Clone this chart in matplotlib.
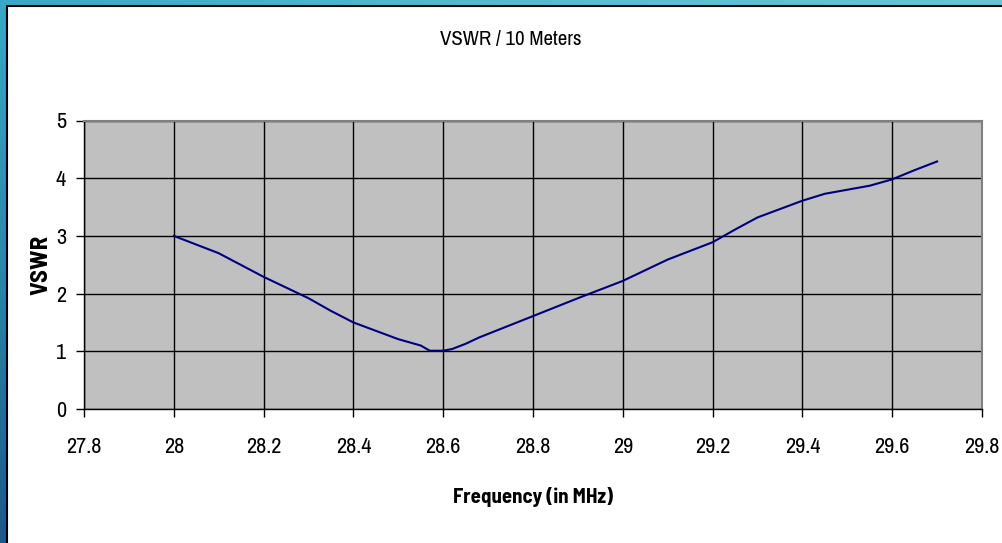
import numpy as np
import matplotlib
matplotlib.use("Agg")
import matplotlib.pyplot as plt
from matplotlib.colors import LinearSegmentedColormap

# data
freq = [28.0, 28.1, 28.2, 28.3, 28.35, 28.4, 28.5, 28.55, 28.57, 28.6, 28.62,
        28.65, 28.68, 28.8, 28.9, 29.0, 29.1, 29.2, 29.25, 29.3, 29.4, 29.45,
        29.55, 29.6, 29.65, 29.7]
vswr = [3.0, 2.7, 2.29, 1.92, 1.7, 1.5, 1.21, 1.1, 1.01, 1.01, 1.04,
        1.13, 1.24, 1.61, 1.92, 2.22, 2.59, 2.89, 3.11, 3.32, 3.61, 3.73,
        3.87, 3.98, 4.14, 4.29]
x_ticks = [27.8, 28, 28.2, 28.4, 28.6, 28.8, 29, 29.2, 29.4, 29.6, 29.8]
x_tick_labels = ["27.8", "28", "28.2", "28.4", "28.6", "28.8", "29", "29.2", "29.4", "29.6", "29.8"]
y_ticks = [0, 1, 2, 3, 4, 5]

# narrow sans to mimic Arial Narrow
plt.rcParams['font.family'] = ['Archivo Narrow', 'Liberation Sans', 'DejaVu Sans']
BOLD_FAMILY = ['Barlow Semi Condensed', 'Liberation Sans', 'DejaVu Sans']

W, H = 1003, 543
fig = plt.figure(figsize=(W / 100, H / 100), dpi=100)

# background frame (blue gradient border + white panel)
bg = fig.add_axes([0, 0, 1, 1])
bg.axis("off")
left_cmap = LinearSegmentedColormap.from_list("l", ["#3aa8c6", "#2b86ab", "#1c5986"])
top_cmap = LinearSegmentedColormap.from_list("t", ["#3aa8c6", "#55bbd2", "#68c5d9"])
bg.imshow(np.linspace(0, 1, 256).reshape(-1, 1), cmap=left_cmap, aspect="auto",
          extent=[0, 7, H, 0], zorder=0)
bg.imshow(np.linspace(0, 1, 256).reshape(1, -1), cmap=top_cmap, aspect="auto",
          extent=[0, W, 6, 0], zorder=0)
bg.add_patch(plt.Rectangle((7.5, 6), W, H, facecolor="white", edgecolor="black",
                           linewidth=1.5, zorder=1))
bg.set_xlim(0, W)
bg.set_ylim(H, 0)

# plot area
x0, x1 = 84, 982
y_top, y_bot = 120.5, 409
ax = fig.add_axes([x0 / W, 1 - y_bot / H, (x1 - x0) / W, (y_bot - y_top) / H])
ax.set_facecolor("#c0c0c0")
ax.plot(freq, vswr, color="#000080", linewidth=1.5, zorder=3)
ax.set_xlim(27.8, 29.8)
ax.set_ylim(0, 5)
ax.set_xticks(x_ticks)
ax.set_xticklabels(x_tick_labels)
ax.set_yticks(y_ticks)
ax.grid(True, color="black", linewidth=1.0)
ax.set_axisbelow(True)
for side in ["top", "right"]:
    ax.spines[side].set_color("#808080")
    ax.spines[side].set_linewidth(1.5)
for side in ["left", "bottom"]:
    ax.spines[side].set_color("black")
    ax.spines[side].set_linewidth(1.0)
ax.tick_params(axis="both", direction="out", length=6, width=1, color="black",
               labelsize=16)
ax.tick_params(axis="x", pad=14)
ax.tick_params(axis="y", pad=7)

ax.set_xlabel("Frequency (in MHz)", fontsize=15, fontweight="bold", family=BOLD_FAMILY)
ax.set_ylabel("VSWR", fontsize=18, fontweight="bold", family=BOLD_FAMILY)
ax.xaxis.set_label_coords((533 - x0) / (x1 - x0), -(497 - y_bot) / (y_bot - y_top))
ax.xaxis.label.set_va("center")
ax.yaxis.set_label_coords(-(x0 - 41) / (x1 - x0), 0.5)
ax.yaxis.label.set_va("center")

fig.text(511 / W, 1 - 39 / H, "VSWR / 10 Meters", fontsize=15, ha="center", va="center")

fig.savefig("out.png", dpi=100)
